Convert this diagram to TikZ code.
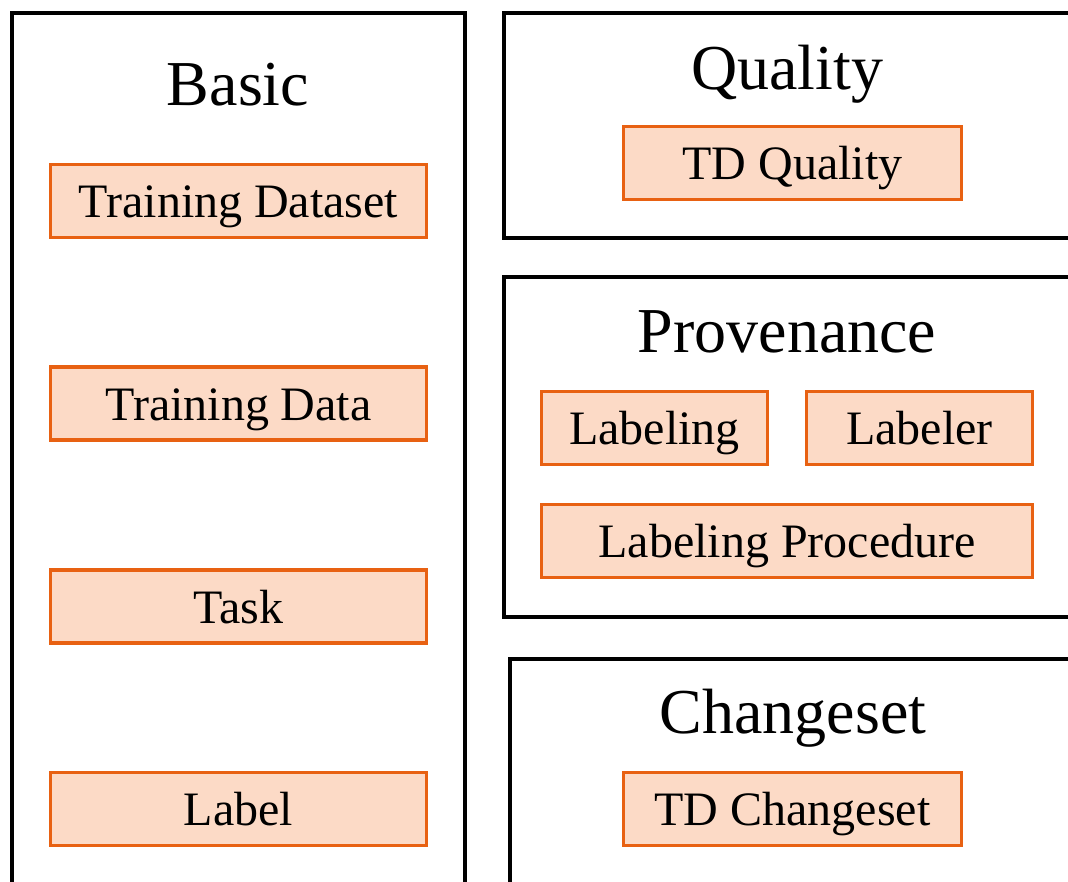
\documentclass[tikz,border=0pt]{standalone}
\usepackage{fontspec}
\setmainfont{Liberation Serif}
\definecolor{boxfill}{RGB}{252,218,198}
\definecolor{boxline}{RGB}{232,97,18}
\begin{document}
\begin{tikzpicture}[x=1pt,y=-1pt,
  group/.style={draw=black,line width=4pt,fill=none},
  item/.style={draw=boxline,fill=boxfill,line width=3.2pt,minimum height=73pt,inner sep=0pt,text height=36pt,text depth=3pt,font=\fontsize{48}{52}\selectfont},
  title/.style={anchor=base,inner sep=0pt,font=\fontsize{64}{70}\selectfont}]
\useasboundingbox (0,0) rectangle (1068,881);
\clip (0,0) rectangle (1068,881);
\fill[white] (0,0) rectangle (1068,881);
% group frames
\draw[group] (12,13) rectangle (465,900);
\draw[group] (504,13) rectangle (1090,238);
\draw[group] (504,277) rectangle (1090,617);
\draw[group] (510,659) rectangle (1090,900);
% titles
\node[title] (tbasic) at (238,105) {Basic};
\node[title] (tquality) at (787,89) {Quality};
\node[title] (tprov) at (787,352) {Provenance};
\node[title] (tchange) at (793,733) {Changeset};
% items
\node[item,minimum width=376pt] (tds) at (238.5,201) {Training Dataset};
\node[item,minimum width=376pt] (td) at (238.5,403.5) {Training Data};
\node[item,minimum width=376pt] (task) at (238.5,606.5) {Task};
\node[item,minimum width=376pt] (label) at (238.5,809) {Label};
\node[item,minimum width=338pt] (tdq) at (792.5,163) {TD Quality};
\node[item,minimum width=226pt] (labeling) at (654.5,428) {Labeling};
\node[item,minimum width=226pt] (labeler) at (919.5,428) {Labeler};
\node[item,minimum width=491pt] (lproc) at (787,541) {Labeling Procedure};
\node[item,minimum width=338pt] (tdc) at (792.5,809) {TD Changeset};
\end{tikzpicture}
\end{document}
